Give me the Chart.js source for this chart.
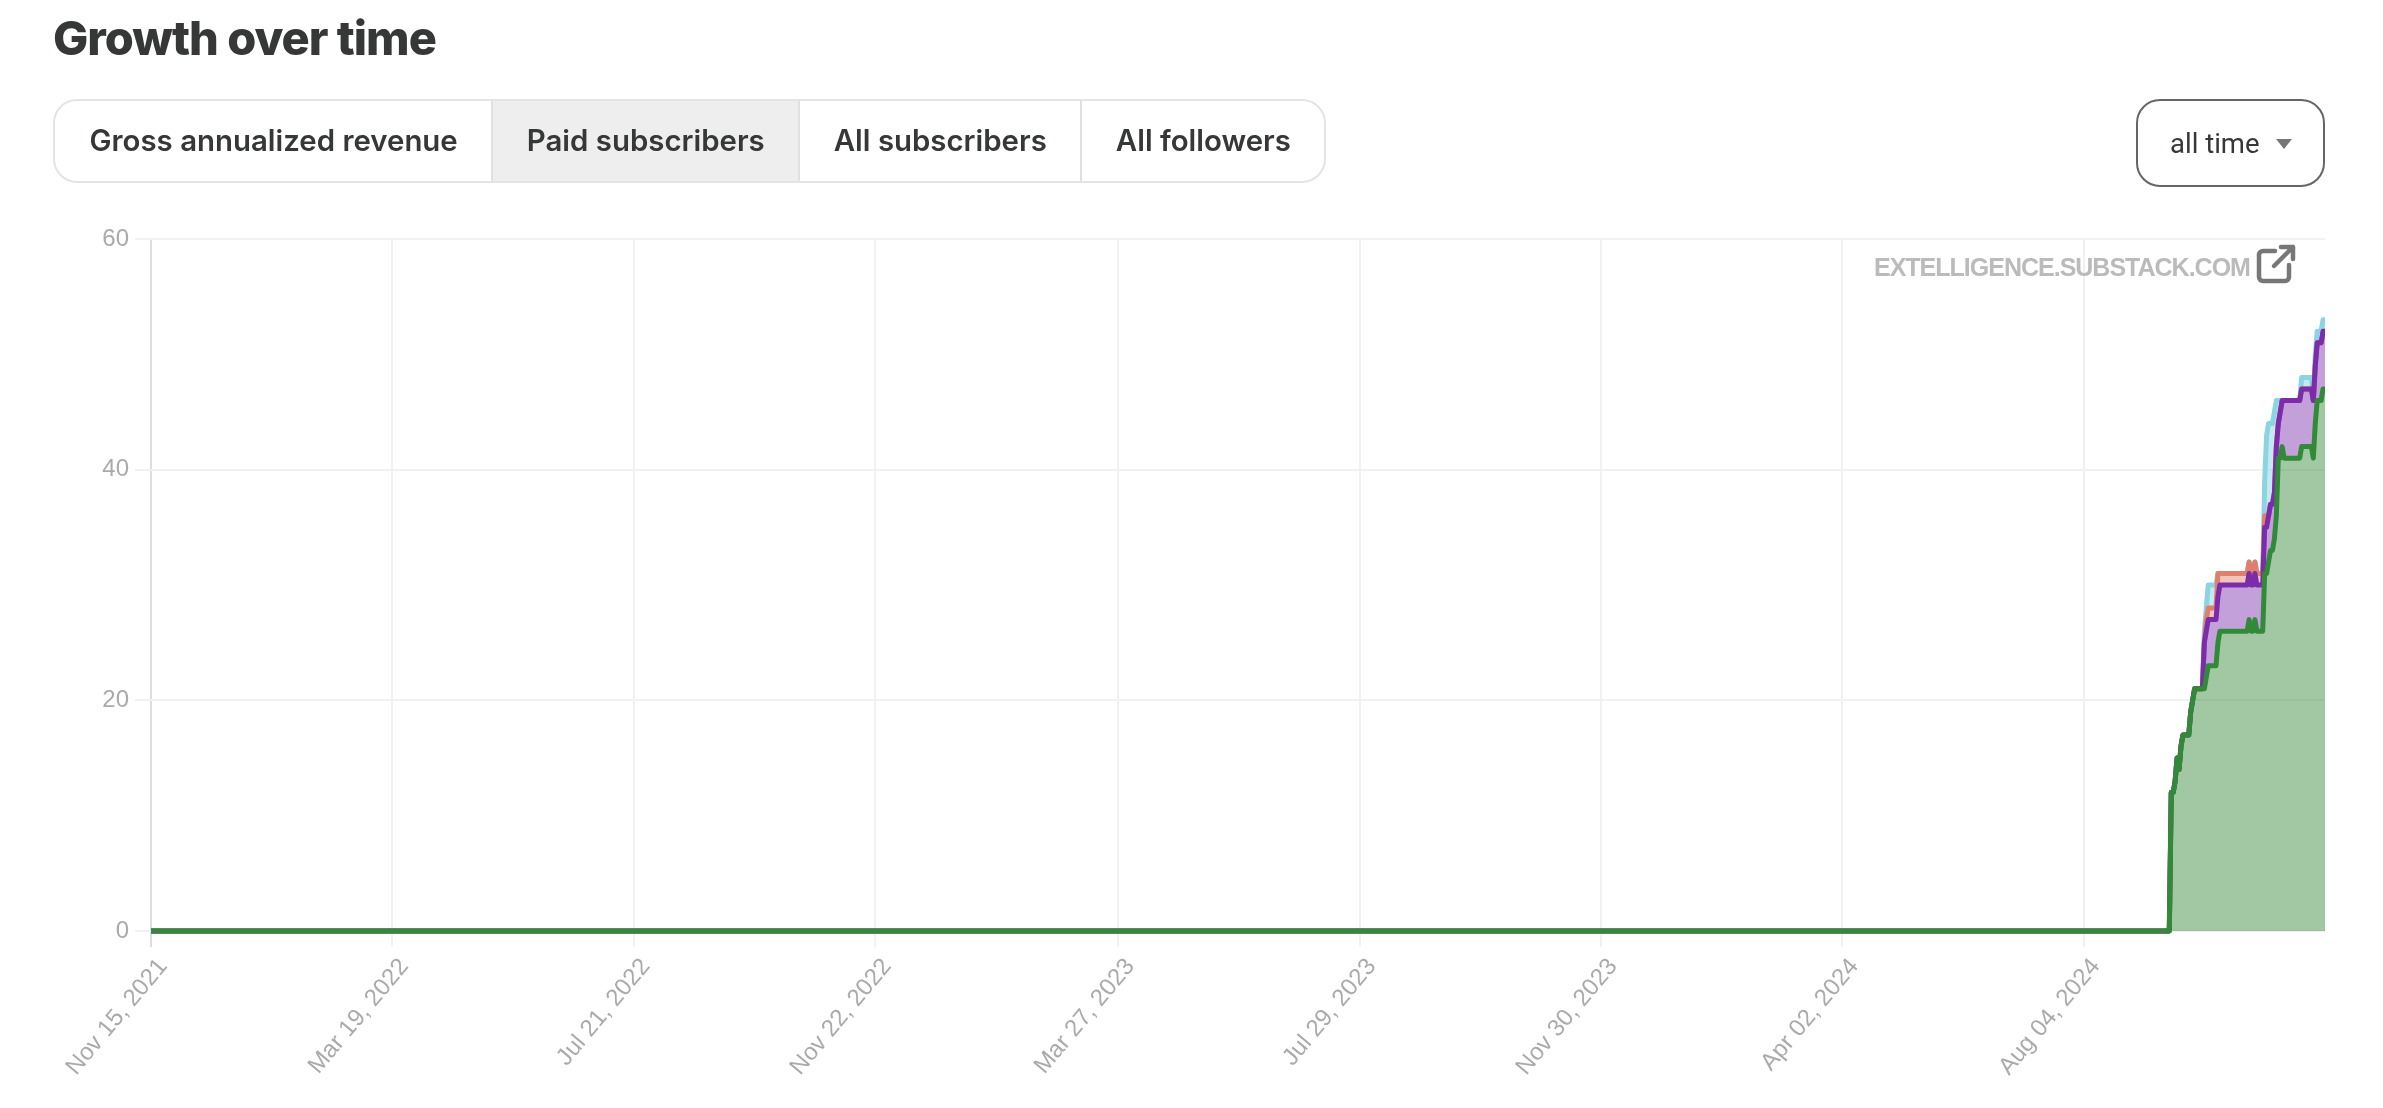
<!DOCTYPE html>
<html lang="en">
<head>
    <meta charset="UTF-8">
    <title>Growth over time</title>
    <script src="https://cdn.jsdelivr.net/npm/chart.js"></script>
    <style>
        html, body { margin: 0; background: #fff; overflow: hidden; }
        body { position: relative; width: 2383px; height: 1108px; color: #363737; font-family: Inter, sans-serif; }
        canvas { position: absolute; left: 0; top: 0; }
        h2 { position: absolute; left: 53px; top: 11px; margin: 0; font-size: 47px; line-height: 54px; font-weight: 800; letter-spacing: -1px; }
        .tabs { position: absolute; left: 53px; top: 99px; height: 80px; display: flex; border: 2px solid #e4e4e4; border-radius: 24px; overflow: hidden; }
        .tabs div { box-sizing: content-box; padding: 0 33.5px; font-size: 29.4px; font-weight: 600; line-height: 80px; border-left: 2px solid #e0e0e0; white-space: nowrap; }
        .tabs div:first-child { border-left: 0; padding-left: 34.5px; }
        .tabs .active { background: #eee; }
        .range { position: absolute; left: 2136px; top: 99px; width: 185px; height: 84px; border: 2px solid #666; border-radius: 24px; font-family: Roboto, sans-serif; font-size: 27.5px; line-height: 84px; }
        .range span { position: absolute; left: 32px; top: 1px; }
        .range i { position: absolute; left: 138px; top: 38px; border: 8px solid transparent; border-top: 10px solid #777; border-bottom: 0; }
        .source { position: absolute; left: 1874px; top: 252px; font-family: "Liberation Sans", sans-serif; font-size: 25px; line-height: 30px; font-weight: 700; color: #bbb; letter-spacing: -1px; white-space: nowrap; }
        svg { position: absolute; left: 2255px; top: 243px; }
    </style>
</head>
<body>
    <canvas id="growthChart" width="2383" height="1108"></canvas>
    <h2>Growth over time</h2>
    <div class="tabs">
        <div>Gross annualized revenue</div>
        <div class="active">Paid subscribers</div>
        <div>All subscribers</div>
        <div>All followers</div>
    </div>
    <div class="range"><span>all time</span><i></i></div>
    <div class="source">EXTELLIGENCE.SUBSTACK.COM</div>
    <svg width="42" height="42" viewBox="0 0 42 42" fill="none" stroke="#777" stroke-width="4.5" stroke-linecap="round" stroke-linejoin="round">
        <path d="M20 8H8a4 4 0 0 0-4 4v22a4 4 0 0 0 4 4h22a4 4 0 0 0 4-4V22"/>
        <path d="M19 23L38 4M26 4h12v12"/>
    </svg>

    <script>
        // days since Nov 15, 2021
        const days = [0, 1037, 1038, 1039, 1040, 1041, 1042, 1043, 1044, 1045, 1046, 1047, 1048, 1049, 1050, 1051, 1052, 1053, 1054, 1055, 1056, 1057, 1058, 1059, 1060, 1061, 1062, 1063, 1064, 1065, 1066, 1067, 1068, 1069, 1070, 1071, 1072, 1073, 1074, 1075, 1076, 1077, 1078, 1079, 1080, 1081, 1082, 1083, 1084, 1085, 1086, 1087, 1088, 1089, 1090, 1091, 1092, 1093, 1094, 1095, 1096, 1097, 1098, 1099, 1100, 1101, 1102, 1103, 1104, 1105, 1106, 1107, 1108, 1109, 1110, 1111, 1112, 1113, 1114, 1115, 1116, 1117];

        const green = [0, 0, 12, 12, 13, 15, 14, 16, 17, 17, 17, 17, 19, 20, 21, 21, 21, 21, 21, 21, 22, 23, 23, 23, 23, 23, 25, 26, 26, 26, 26, 26, 26, 26, 26, 26, 26, 26, 26, 26, 26, 26, 27, 26, 26, 27, 26, 26, 26, 26, 31, 31, 32, 33, 33, 34, 36, 41, 41, 42, 41, 41, 41, 41, 41, 41, 41, 41, 41, 42, 42, 42, 42, 42, 42, 41, 44, 46, 46, 46, 47, 47];
        const purple = [0, 0, 12, 12, 13, 15, 14, 16, 17, 17, 17, 17, 19, 20, 21, 21, 21, 21, 21, 25, 26, 27, 27, 27, 27, 27, 29, 30, 30, 30, 30, 30, 30, 30, 30, 30, 30, 30, 30, 30, 30, 30, 31, 30, 30, 31, 30, 30, 30, 30, 35, 35, 36, 37, 37, 38, 42, 44, 45, 46, 46, 46, 46, 46, 46, 46, 46, 46, 46, 47, 47, 47, 47, 47, 47, 46, 49, 51, 51, 51, 52, 52];
        const salmon = [0, 0, 12, 12, 13, 15, 14, 16, 17, 17, 17, 17, 19, 20, 21, 21, 21, 21, 21, 25, 27, 28, 28, 28, 28, 28, 31, 31, 31, 31, 31, 31, 31, 31, 31, 31, 31, 31, 31, 31, 31, 31, 32, 31, 31, 32, 31, 31, 31, 31, 36, 36, 36, 37, 37, 38, 42, 44, 45, 46, 46, 46, 46, 46, 46, 46, 46, 46, 46, 47, 47, 47, 47, 47, 47, 46, 49, 51, 51, 51, 52, 52];
        const blue = [0, 0, 12, 12, 13, 15, 14, 16, 17, 17, 17, 17, 19, 20, 21, 21, 21, 21, 21, 26, 28, 30, 30, 30, 30, 30, 31, 31, 31, 31, 31, 31, 31, 31, 31, 31, 31, 31, 31, 31, 31, 31, 32, 31, 31, 32, 31, 31, 31, 31, 39, 43, 44, 44, 44, 45, 46, 46, 46, 46, 46, 46, 46, 46, 46, 46, 46, 46, 46, 48, 48, 48, 48, 48, 48, 46, 50, 52, 52, 52, 53, 53];

        const tickDays = [0, 124, 248, 372, 497, 621, 745, 869, 993];
        const tickLabels = ['Nov 15, 2021', 'Mar 19, 2022', 'Jul 21, 2022', 'Nov 22, 2022', 'Mar 27, 2023', 'Jul 29, 2023', 'Nov 30, 2023', 'Apr 02, 2024', 'Aug 04, 2024'];
        const yTicks = [0, 20, 40, 60];

        function series(values, line, area, fill) {
            return {
                data: values.map((v, i) => ({ x: days[i], y: v })),
                borderColor: line,
                backgroundColor: area,
                borderWidth: 5,
                borderJoinStyle: 'round',
                pointRadius: 0,
                tension: 0,
                fill: fill,
                clip: { left: 2, top: 2, right: 0, bottom: 3 }
            };
        }

        const ctx = document.getElementById('growthChart').getContext('2d');
        const growthChart = new Chart(ctx, {
            type: 'line',
            data: {
                datasets: [
                    series(green, '#318a38', 'rgba(46, 133, 51, 0.45)', 'origin'),
                    series(purple, '#7b2cab', 'rgba(123, 44, 171, 0.45)', '-1'),
                    series(salmon, '#e07f6c', 'rgba(224, 127, 108, 0.45)', '-1'),
                    series(blue, '#8cd4e4', 'rgba(140, 212, 228, 0.5)', '-1')
                ]
            },
            options: {
                responsive: false,
                animation: false,
                layout: { padding: { top: 239, right: 58, left: 0, bottom: 0 } },
                plugins: { legend: { display: false }, tooltip: { enabled: false } },
                scales: {
                    x: {
                        type: 'linear',
                        min: 0,
                        max: 1117,
                        afterFit: scale => { scale.height = 177; },
                        afterBuildTicks: scale => { scale.ticks = tickDays.map(d => ({ value: d })); },
                        grid: {
                            color: c => c.index === 0 ? '#ddd' : '#f1f1f1',
                            lineWidth: 2,
                            tickLength: 16
                        },
                        border: { display: false },
                        ticks: {
                            color: '#aaa',
                            font: { family: 'Liberation Sans', size: 24 },
                            padding: 6,
                            minRotation: 50,
                            maxRotation: 50,
                            labelOffset: 12,
                            autoSkip: false,
                            callback: value => tickLabels[tickDays.indexOf(value)]
                        }
                    },
                    y: {
                        min: 0,
                        max: 60,
                        afterFit: scale => { scale.width = 151; },
                        afterBuildTicks: scale => { scale.ticks = yTicks.map(v => ({ value: v })); },
                        grid: { color: '#f1f1f1', lineWidth: 2, tickLength: 16 },
                        border: { display: false },
                        ticks: {
                            color: '#aaa',
                            font: { family: 'Liberation Sans', size: 24 },
                            padding: 6
                        }
                    }
                }
            }
        });
    </script>
</body>
</html>
